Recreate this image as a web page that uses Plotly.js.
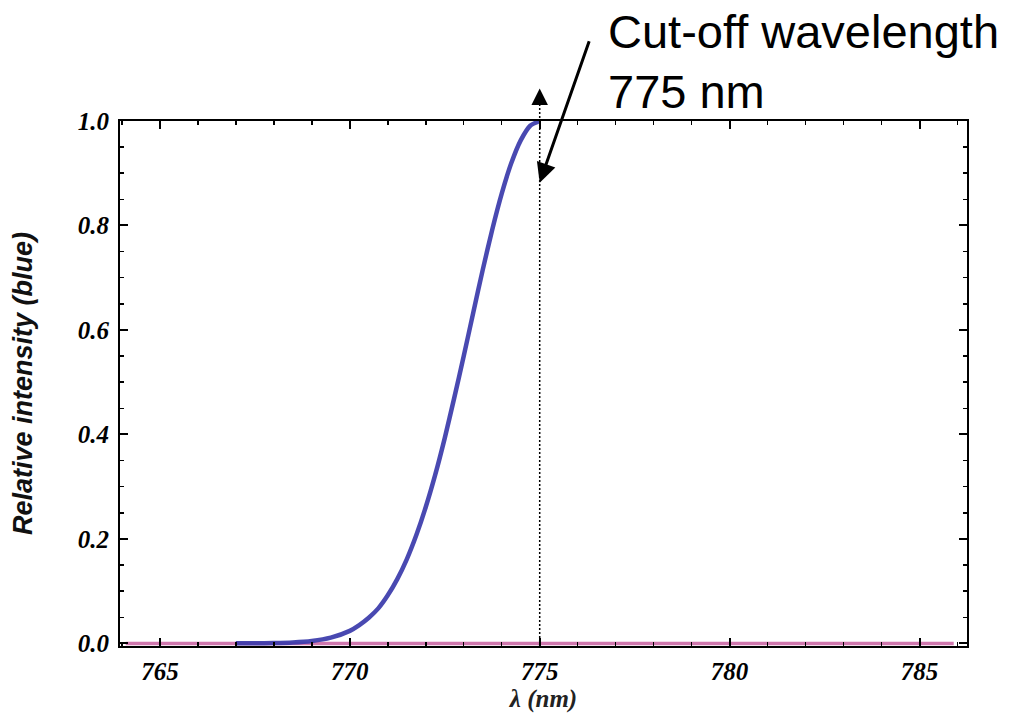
<!DOCTYPE html>
<html>
<head>
<meta charset="utf-8">
<script src="https://cdn.plot.ly/plotly-3.0.1.min.js"></script>
<style>
  html, body { margin: 0; padding: 0; background: #ffffff; }
  #chart { width: 1012px; height: 714px; }
</style>
</head>
<body>
<div id="chart"></div>
<script>
// Wavelength samples (nm) for the rising edge of the blue spectrum
const wavelengthBlue = [767, 767.5, 768, 768.5, 769, 769.5, 770, 770.25, 770.5, 770.75,
  771, 771.25, 771.5, 771.75, 772, 772.25, 772.5, 772.75, 773, 773.25,
  773.5, 773.75, 774, 774.25, 774.5, 774.75, 775];
// Relative intensity of the blue spectrum at those wavelengths
const intensityBlue = [0.0001, 0.0002, 0.0007, 0.0018, 0.0046, 0.011, 0.024, 0.035, 0.049, 0.067,
  0.092, 0.123, 0.161, 0.207, 0.261, 0.323, 0.393, 0.470, 0.550, 0.633,
  0.715, 0.792, 0.861, 0.919, 0.963, 0.991, 1.0];
// Second (red) spectrum, flat at zero over the whole window
const wavelengthRed = [764.1, 785.9];
const intensityRed = [0, 0];

// Axis ticks
const xTicks = [765, 770, 775, 780, 785];
const xTickText = ['765', '770', '775', '780', '785'];
const yTicks = [0, 0.2, 0.4, 0.6, 0.8, 1.0];
const yTickText = ['0.0', '0.2', '0.4', '0.6', '0.8', '1.0'];

// Cut-off marker
const cutoffWavelength = 775;
const cutoffLabel = ['Cut-off wavelength', '775 nm'];

const tickFont = { family: 'Liberation Serif, Times New Roman, serif', size: 25, color: '#000', weight: 'bold', style: 'italic' };

const traces = [
  {
    x: wavelengthRed, y: intensityRed, mode: 'lines', type: 'scatter',
    line: { color: 'rgba(200,95,160,0.85)', width: 3.5 },
    hoverinfo: 'skip'
  },
  {
    x: wavelengthBlue, y: intensityBlue, mode: 'lines', type: 'scatter',
    line: { color: 'rgba(58,58,170,0.92)', width: 4.5, shape: 'spline', smoothing: 0.6 },
    hoverinfo: 'skip'
  }
];

const layout = {
  width: 1012, height: 714,
  margin: { l: 120, r: 45, t: 121, b: 68 },
  paper_bgcolor: '#ffffff', plot_bgcolor: '#ffffff',
  showlegend: false,
  xaxis: {
    range: [763.95, 786.25],
    tickvals: xTicks, ticktext: xTickText,
    ticks: 'inside', ticklen: 8, tickwidth: 2, tickcolor: '#000',
    minor: { ticks: 'inside', dtick: 1, ticklen: 4, tickwidth: 1.5, tickcolor: '#000', showgrid: false },
    showline: true, linecolor: '#000', linewidth: 2, mirror: 'ticks',
    showgrid: false, zeroline: false,
    tickfont: tickFont,
    ticklabelstandoff: 2,
    title: { text: 'λ (nm)', standoff: 0, font: { family: 'Liberation Serif, Times New Roman, serif', size: 25, color: '#222', weight: 'bold', style: 'italic' } }
  },
  yaxis: {
    range: [-0.005, 1],
    tickvals: yTicks, ticktext: yTickText,
    ticks: 'inside', ticklen: 8, tickwidth: 2, tickcolor: '#000',
    minor: { ticks: 'inside', dtick: 0.05, ticklen: 4, tickwidth: 1.5, tickcolor: '#000', showgrid: false },
    showline: true, linecolor: '#000', linewidth: 2, mirror: 'ticks',
    showgrid: false, zeroline: false,
    tickfont: tickFont,
    ticklabelstandoff: 4,
    title: { text: 'Relative intensity (blue)', standoff: 37, font: { family: 'Liberation Sans, Arial, sans-serif', size: 27, color: '#111', weight: 'bold', style: 'italic' } }
  },
  shapes: [
    {
      type: 'line', xref: 'x', yref: 'paper',
      x0: cutoffWavelength, x1: cutoffWavelength, y0: 0, y1: 1.035,
      line: { color: '#000', width: 1.5, dash: '2px,2px' }
    }
  ],
  annotations: [
    // arrowhead on top of the dotted cut-off line
    {
      xref: 'x', yref: 'paper', x: cutoffWavelength, y: 1.062,
      ax: 0, ay: 16, text: '', showarrow: true,
      arrowhead: 2, arrowsize: 2.2, arrowwidth: 1.5, arrowcolor: '#000'
    },
    // pointer from the label to the cut-off line
    {
      xref: 'x', yref: 'y', x: cutoffWavelength, y: 0.882,
      ax: 50, ay: -143, text: '', showarrow: true,
      arrowhead: 2, arrowsize: 1.3, arrowwidth: 3, arrowcolor: '#000'
    },
    {
      xref: 'paper', yref: 'paper', x: (606 - 120) / 847, y: (646 - 60) / 525,
      xanchor: 'left', yanchor: 'bottom', showarrow: false,
      text: cutoffLabel[0],
      font: { family: 'Liberation Sans, Arial, sans-serif', size: 47, color: '#000' }
    },
    {
      xref: 'paper', yref: 'paper', x: (606 - 120) / 847, y: (646 - 120) / 525,
      xanchor: 'left', yanchor: 'bottom', showarrow: false,
      text: cutoffLabel[1],
      font: { family: 'Liberation Sans, Arial, sans-serif', size: 47, color: '#000' }
    }
  ]
};

Plotly.newPlot('chart', traces, layout, { staticPlot: true, displayModeBar: false });
</script>
</body>
</html>
